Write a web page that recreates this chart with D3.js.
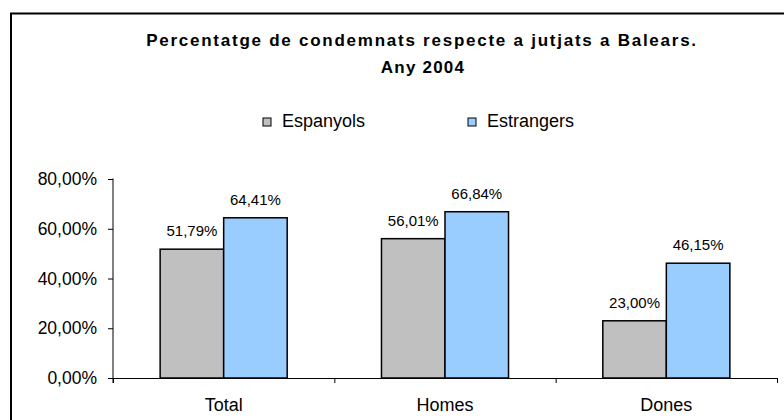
<!DOCTYPE html>
<html>
<head>
  <meta charset="utf-8">
  <title>Percentatge de condemnats</title>
  <script src="https://cdn.jsdelivr.net/npm/d3@7"></script>
  <style>
    body { margin: 0; background: #fff; }
    text { font-family: Arial, "Liberation Sans", sans-serif; fill: #000; }
  </style>
</head>
<body>
<div id="container"></div>
<script>
    var categories = ["Total", "Homes", "Dones"];
    var seriesNames = ["Espanyols", "Estrangers"];
    var espanyols = [51.79, 56.01, 23.00];
    var estrangers = [64.41, 66.84, 46.15];
    var yTicks = [0, 20, 40, 60, 80];
    var colors = ["#c0c0c0", "#99ccff"];

    var width = 784, height = 420;
    var svg = d3.select("#container").append("svg")
        .attr("width", width).attr("height", height);

    // outer frame (runs off right and bottom edges)
    svg.append("rect")
        .attr("x", 11).attr("y", 13.5)
        .attr("width", 790).attr("height", 420)
        .attr("fill", "none").attr("stroke", "#000").attr("stroke-width", 2);

    var loc = d3.formatLocale({decimal: ",", thousands: ".", grouping: [3], currency: ["", "€"]});
    var fmt = function(v){ return loc.format(".2f")(v) + "%"; };

    var x0 = d3.scaleBand().domain(categories).range([113, 777]).paddingInner(0).paddingOuter(0);
    var x1 = d3.scaleBand().domain(seriesNames).range([0, x0.bandwidth()]).paddingInner(0).paddingOuter(0.742);
    var y = d3.scaleLinear().domain([0, 80]).range([378, 179]);

    var rows = categories.map(function(c, i){
      return {cat: c, vals: [{s: seriesNames[0], v: espanyols[i]}, {s: seriesNames[1], v: estrangers[i]}]};
    });

    // y axis
    var yAxis = svg.append("g").attr("transform", "translate(113,0)")
        .call(d3.axisLeft(y).tickValues(yTicks).tickSize(5).tickPadding(11).tickFormat(fmt));
    yAxis.selectAll("text").style("font-size", "17.5px");
    yAxis.select(".domain").attr("stroke", "#000").attr("d", "M0,178.5V383");
    yAxis.selectAll(".tick line").attr("stroke", "#000");

    // x axis with ticks at band edges
    var xg = svg.append("g");
    xg.append("line").attr("x1", 113).attr("x2", 777).attr("y1", 378.5).attr("y2", 378.5).attr("stroke", "#000");
    var edges = categories.map(function(c){ return x0(c); }).concat([x0.range()[1]]);
    xg.selectAll(".xt").data(edges).enter().append("line")
        .attr("x1", function(d){ return d + 0.5; }).attr("x2", function(d){ return d + 0.5; })
        .attr("y1", 378).attr("y2", 383).attr("stroke", "#000");
    xg.selectAll(".xl").data(categories).enter().append("text")
        .attr("x", function(d){ return x0(d) + x0.bandwidth() / 2; })
        .attr("y", 411).attr("text-anchor", "middle")
        .style("font-size", "18px").text(function(d){ return d; });

    // bars
    var groups = svg.selectAll(".grp").data(rows).enter().append("g")
        .attr("transform", function(d){ return "translate(" + x0(d.cat) + ",0)"; });
    groups.selectAll("rect").data(function(d){ return d.vals; }).enter().append("rect")
        .attr("x", function(d){ return x1(d.s); })
        .attr("y", function(d){ return y(d.v); })
        .attr("width", x1.bandwidth())
        .attr("height", function(d){ return y(0) - y(d.v); })
        .attr("fill", function(d, i){ return colors[i]; })
        .attr("stroke", "#000").attr("stroke-width", 1.5);
    groups.selectAll(".lbl").data(function(d){ return d.vals; }).enter().append("text")
        .attr("x", function(d){ return x1(d.s) + x1.bandwidth() / 2; })
        .attr("y", function(d){ return y(d.v) - 13; })
        .attr("text-anchor", "middle").style("font-size", "15px")
        .text(function(d){ return fmt(d.v); });

    // title
    svg.append("text").attr("x", 422).attr("y", 46).attr("text-anchor", "middle")
        .style("font-size", "17px").style("font-weight", "bold").style("letter-spacing", "1.75px")
        .text("Percentatge de condemnats respecte a jutjats a Balears.");
    svg.append("text").attr("x", 423).attr("y", 72.5).attr("text-anchor", "middle")
        .style("font-size", "17px").style("font-weight", "bold").style("letter-spacing", "1.2px")
        .text("Any 2004");

    // legend
    var legX = [263, 468];
    var leg = svg.selectAll(".leg").data(seriesNames).enter().append("g")
        .attr("transform", function(d, i){ return "translate(" + legX[i] + ",118)"; });
    leg.append("rect").attr("width", 8).attr("height", 8)
        .attr("fill", function(d, i){ return colors[i]; }).attr("stroke", "#000").attr("stroke-width", 1);
    leg.append("text").attr("x", 19).attr("y", 9).style("font-size", "18px").text(function(d){ return d; });
</script>
</body>
</html>
